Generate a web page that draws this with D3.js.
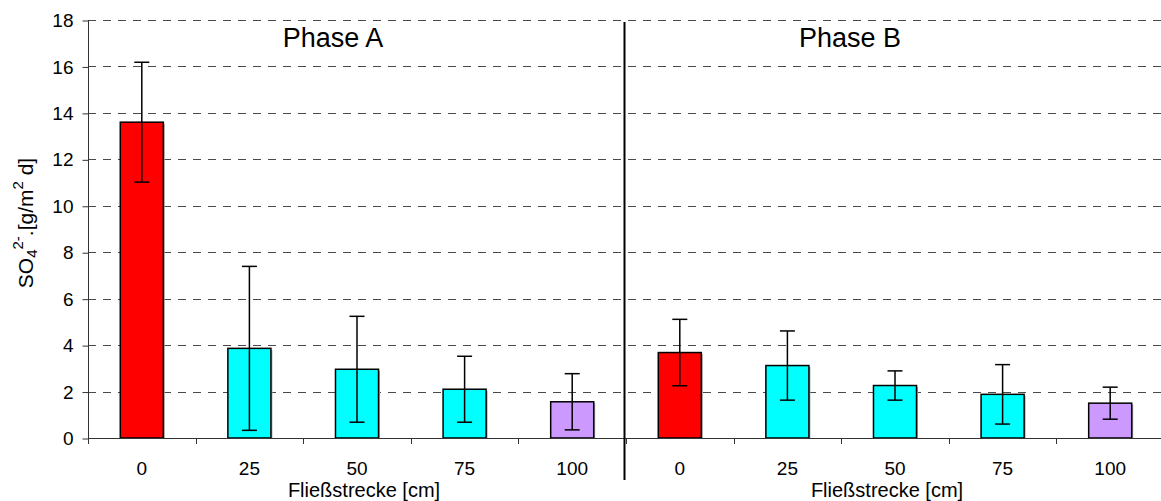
<!DOCTYPE html>
<html>
<head>
<meta charset="utf-8">
<script src="https://cdn.jsdelivr.net/npm/d3@7"></script>
<style>
  html, body { margin: 0; padding: 0; background: #fff; }
  svg { display: block; font-family: Arial, "Liberation Sans", sans-serif; }
</style>
</head>
<body>
<svg id="chart" width="1161" height="501"></svg>
<script>
// ---- data ----
const categories = ["0", "25", "50", "75", "100"];
const phases = ["Phase A", "Phase B"];
const phaseAValues = [13.6, 3.86, 2.96, 2.1, 1.56];
const phaseAErrors = [2.58, 3.53, 2.28, 1.42, 1.21];
const phaseBValues = [3.68, 3.12, 2.26, 1.88, 1.5];
const phaseBErrors = [1.43, 1.49, 0.63, 1.28, 0.69];
const barColors = ["#FF0000", "#00FFFF", "#00FFFF", "#00FFFF", "#CC99FF"];
const yTicks = [0, 2, 4, 6, 8, 10, 12, 14, 16, 18];
const xAxisTitle = "Fließstrecke [cm]";

// ---- layout ----
const plotLeft = 88, plotRight = 1164, plotTop = 20, plotBottom = 438;

const rows = [];
phases.forEach((p, pi) => {
  const vals = pi === 0 ? phaseAValues : phaseBValues;
  const errs = pi === 0 ? phaseAErrors : phaseBErrors;
  categories.forEach((c, ci) => {
    rows.push({ key: p + "|" + c, phase: p, cat: c, value: vals[ci], err: errs[ci], color: barColors[ci] });
  });
});
const keys = rows.map(d => d.key);

const svg = d3.select("#chart");

const slot = d3.scaleBand().domain(keys).range([plotLeft, plotRight]).padding(0);
const xBar = d3.scaleBand().domain(keys).range([plotLeft, plotRight]).paddingInner(0.6).paddingOuter(0.3);
const y = d3.scaleLinear().domain([0, 18]).range([plotBottom, plotTop]);

// gridlines
svg.append("g").selectAll("line").data(yTicks.filter(t => t > 0)).join("line")
  .attr("x1", plotLeft).attr("x2", plotRight)
  .attr("y1", d => Math.round(y(d)) + 0.5).attr("y2", d => Math.round(y(d)) + 0.5)
  .attr("stroke", "#4a4a4a").attr("stroke-width", 1)
  .attr("stroke-dasharray", "8,7");

// y axis
const yAxis = d3.axisLeft(y).tickValues(yTicks).tickSize(6).tickPadding(9).tickFormat(d3.format("d"));
const gy = svg.append("g").attr("transform", `translate(${plotLeft + 0.5},0.5)`).call(yAxis);
gy.select(".domain").attr("stroke", "#333").attr("d", `M0,${y(18)}V${y(0)}`);
gy.selectAll(".tick line").attr("stroke", "#333");
gy.selectAll(".tick text").attr("font-size", 19).attr("fill", "#000")
  .attr("font-family", "Arial, 'Liberation Sans', sans-serif");

// bars (shadow + bar)
svg.append("g").selectAll("rect").data(rows).join("rect")
  .attr("x", d => xBar(d.key) + 1.5)
  .attr("y", d => y(d.value) + 1.5)
  .attr("width", xBar.bandwidth())
  .attr("height", d => y(0) - y(d.value) - 1.5)
  .attr("fill", "#aaa");
svg.append("g").selectAll("rect").data(rows).join("rect")
  .attr("x", d => xBar(d.key))
  .attr("y", d => y(d.value))
  .attr("width", xBar.bandwidth())
  .attr("height", d => y(0) - y(d.value))
  .attr("fill", d => d.color)
  .attr("stroke", "#000").attr("stroke-width", 1.5);

// x axis line
svg.append("line").attr("x1", plotLeft).attr("x2", plotRight)
  .attr("y1", plotBottom + 0.5).attr("y2", plotBottom + 0.5)
  .attr("stroke", "#333").attr("stroke-width", 1);

// x tick marks at slot boundaries
svg.append("g").selectAll("line").data(keys).join("line")
  .attr("x1", d => Math.round(slot(d)) + 0.5).attr("x2", d => Math.round(slot(d)) + 0.5)
  .attr("y1", plotBottom).attr("y2", plotBottom + 6)
  .attr("stroke", "#333").attr("stroke-width", 1);

// x tick labels
const xAxis = d3.axisBottom(slot).tickSize(0).tickPadding(0).tickFormat(k => k.split("|")[1]);
const gx = svg.append("g").attr("transform", `translate(0,${plotBottom})`).call(xAxis);
gx.select(".domain").remove();
gx.selectAll(".tick text").attr("font-size", 19).attr("fill", "#000")
  .attr("dy", "1.95em")
  .attr("font-family", "Arial, 'Liberation Sans', sans-serif");

// error bars
const eb = svg.append("g").attr("stroke", "#000").attr("stroke-width", 1.5);
const cx = d => xBar(d.key) + xBar.bandwidth() / 2;
eb.selectAll("line.v").data(rows).join("line").attr("class", "v")
  .attr("x1", cx).attr("x2", cx)
  .attr("y1", d => y(d.value + d.err)).attr("y2", d => y(d.value - d.err));
eb.selectAll("line.t").data(rows).join("line").attr("class", "t")
  .attr("x1", d => cx(d) - 7.5).attr("x2", d => cx(d) + 7.5)
  .attr("y1", d => y(d.value + d.err)).attr("y2", d => y(d.value + d.err));
eb.selectAll("line.b").data(rows).join("line").attr("class", "b")
  .attr("x1", d => cx(d) - 7.5).attr("x2", d => cx(d) + 7.5)
  .attr("y1", d => y(d.value - d.err)).attr("y2", d => y(d.value - d.err));

// phase divider
const divX = slot(phases[1] + "|" + categories[0]);
svg.append("line").attr("x1", divX - 1.5).attr("x2", divX - 1.5)
  .attr("y1", plotTop + 2).attr("y2", 480)
  .attr("stroke", "#000").attr("stroke-width", 2);

// phase titles
const phaseTitleX = [333, 850];
svg.append("g").selectAll("text").data(phases).join("text")
  .attr("x", (d, i) => phaseTitleX[i]).attr("y", 47)
  .attr("text-anchor", "middle").attr("font-size", 27).attr("fill", "#000")
  .text(d => d);

// x axis titles
phases.forEach((p, pi) => {
  const first = slot(p + "|" + categories[0]);
  const last = slot(p + "|" + categories[categories.length - 1]) + slot.bandwidth();
  svg.append("text")
    .attr("x", (first + last) / 2 - (pi === 0 ? -7 : 8)).attr("y", 497)
    .attr("text-anchor", "middle").attr("font-size", 20).attr("fill", "#000")
    .text(xAxisTitle);
});

// y axis title
const yt = svg.append("text")
  .attr("transform", `translate(33,223) rotate(-90)`)
  .attr("text-anchor", "middle").attr("font-size", 21).attr("fill", "#000");
yt.append("tspan").text("SO");
yt.append("tspan").attr("font-size", 15).attr("dy", 4).text("4");
yt.append("tspan").attr("font-size", 15).attr("dy", -14).text("2-");
yt.append("tspan").attr("dy", 10).text(".[g/m");
yt.append("tspan").attr("font-size", 15).attr("dy", -10).text("2");
yt.append("tspan").attr("dy", 10).text(" d]");
</script>
</body>
</html>
